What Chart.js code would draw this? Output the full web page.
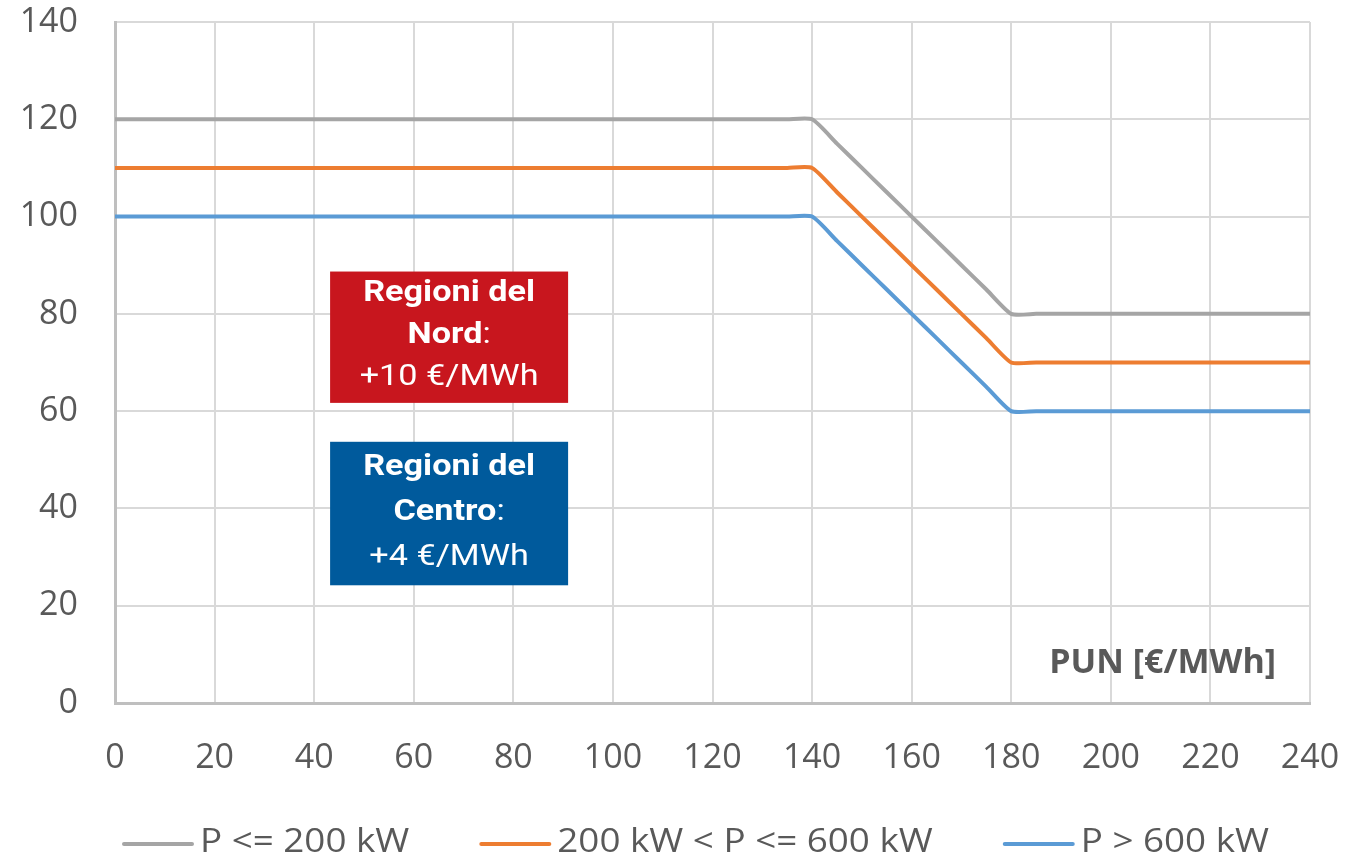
<!DOCTYPE html>
<html>
<head>
<meta charset="utf-8">
<script src="https://cdn.jsdelivr.net/npm/chart.js@4.4.1/dist/chart.umd.min.js"></script>
<style>
html,body{margin:0;padding:0;background:#fff;}
#wrap{width:1350px;height:859px;position:relative;}
</style>
</head>
<body>
<div id="wrap"><canvas id="c" width="1350" height="859"></canvas></div>
<script>
// PUN [€/MWh] positions read along the x axis
const punValues = [0, 20, 40, 60, 80, 100, 120, 130, 135, 140, 145, 150, 155, 160, 165, 170, 175, 180, 185, 190, 200, 220, 240];
// series values (€/MWh)
const smallPlants  = [120,120,120,120,120,120,120,120,120,120,115,110,105,100,95,90,85,80,80,80,80,80,80];
const mediumPlants = [110,110,110,110,110,110,110,110,110,110,105,100,95,90,85,80,75,70,70,70,70,70,70];
const largePlants  = [100,100,100,100,100,100,100,100,100,100,95,90,85,80,75,70,65,60,60,60,60,60,60];
const seriesNames = ['P <= 200 kW', '200 kW < P <= 600 kW', 'P > 600 kW'];
const seriesColors = ['#a5a5a5', '#ed7d31', '#5b9bd5'];
const xTicks = [0, 240, 20];   // min, max, step
const yTicks = [0, 140, 20];
const axisTitle = 'PUN [€/MWh]';
const noteNord = [[['Regioni del', true]], [['Nord', true], [':', false]], [['+10 €/MWh', false]]];
const noteCentro = [[['Regioni del', true]], [['Centro', true], [':', false]], [['+4 €/MWh', false]]];

const FONT = '"Open Sans", "DejaVu Sans", sans-serif';
const TXT = '#595959';

function pts(vals){ return punValues.map((x,i)=>({x:x, y:vals[i]})); }

const notes = [
  {lines: noteNord, color: '#c8161e', x0: 43.2, x1: 91.0, y0: 61.7, y1: 88.7, lineGap: 42, dy: -1},
  {lines: noteCentro, color: '#005a9c', x0: 43.2, x1: 91.0, y0: 24.2, y1: 53.7, lineGap: 45, dy: -1}
];

const overlay = {
  id: 'overlay',
  afterDatasetsDraw(chart){
    const {ctx, scales:{x, y}} = chart;
    ctx.save();
    const SX = 1.18;
    notes.forEach(n => {
      const px0 = x.getPixelForValue(n.x0), px1 = x.getPixelForValue(n.x1);
      const py0 = y.getPixelForValue(n.y1), py1 = y.getPixelForValue(n.y0);
      ctx.fillStyle = n.color;
      ctx.fillRect(px0, py0, px1 - px0, py1 - py0);
      const cx = (px0 + px1) / 2, cy = (py0 + py1) / 2 + n.dy;
      ctx.fillStyle = '#fff';
      ctx.textBaseline = 'middle';
      ctx.textAlign = 'left';
      n.lines.forEach((segs, i) => {
        let w = 0;
        segs.forEach(s => { ctx.font = (s[1] ? 'bold ' : '') + '29px Roboto'; w += ctx.measureText(s[0]).width; });
        const ly = cy + (i - 1) * n.lineGap;
        ctx.save();
        ctx.translate(cx, ly);
        ctx.scale(SX, 1);
        let sx = -w / 2;
        segs.forEach(s => { ctx.font = (s[1] ? 'bold ' : '') + '29px Roboto'; ctx.fillText(s[0], sx, 0); sx += ctx.measureText(s[0]).width; });
        ctx.restore();
      });
    });
    // axis title inside the plot
    ctx.fillStyle = TXT;
    ctx.font = 'bold 34px ' + FONT;
    ctx.textAlign = 'center';
    ctx.textBaseline = 'middle';
    ctx.fillText(axisTitle, x.getPixelForValue(210.4), y.getPixelForValue(8.2));
    ctx.restore();
  },
  afterDraw(chart){
    const {ctx} = chart;
    ctx.save();
    const SX = 1.115;
    ctx.font = '33px ' + FONT;
    ctx.textBaseline = 'alphabetic';
    ctx.textAlign = 'left';
    let lx = 122; const lineY = 844, textY = 852;
    chart.data.datasets.forEach(ds => {
      ctx.strokeStyle = ds.borderColor;
      ctx.lineWidth = 4;
      ctx.lineCap = 'round';
      ctx.beginPath(); ctx.moveTo(lx + 2, lineY); ctx.lineTo(lx + 70, lineY); ctx.stroke();
      ctx.fillStyle = TXT;
      const tx = lx + 78;
      ctx.save();
      ctx.translate(tx, textY);
      ctx.scale(SX, 1);
      ctx.fillText(ds.label, 0, 0);
      ctx.restore();
      lx = tx + ctx.measureText(ds.label).width * SX + 70;
    });
    ctx.restore();
  }
};

new Chart(document.getElementById('c'), {
  type: 'line',
  data: {
    datasets: [smallPlants, mediumPlants, largePlants].map((v, i) => ({
      label: seriesNames[i],
      data: pts(v),
      borderColor: seriesColors[i],
      backgroundColor: seriesColors[i],
      borderWidth: 4,
      pointRadius: 0,
      tension: 0.2,
      fill: false
    }))
  },
  options: {
    responsive: false,
    animation: false,
    events: [],
    layout: {padding: {left: 21, right: 40, top: 22, bottom: 82}},
    plugins: {legend: {display: false}, tooltip: {enabled: false}},
    scales: {
      x: {
        type: 'linear', min: xTicks[0], max: xTicks[1],
        ticks: {stepSize: xTicks[2], color: TXT, font: {family: FONT, size: 34}, padding: 35, maxRotation: 0},
        grid: {color: '#d9d9d9', lineWidth: 2, drawTicks: false},
        border: {color: '#bfbfbf', width: 3},
        afterFit: s => { s.paddingLeft = 0; s.paddingRight = 0; s.height = 74; }
      },
      y: {
        min: yTicks[0], max: yTicks[1],
        ticks: {stepSize: yTicks[2], color: TXT, font: {family: FONT, size: 34}, padding: 37},
        grid: {color: '#d9d9d9', lineWidth: 2, drawTicks: false},
        border: {color: '#bfbfbf', width: 3},
        afterFit: s => { s.paddingTop = 0; s.paddingBottom = 0; s.width = 94; }
      }
    }
  },
  plugins: [overlay]
});
</script>
</body>
</html>
